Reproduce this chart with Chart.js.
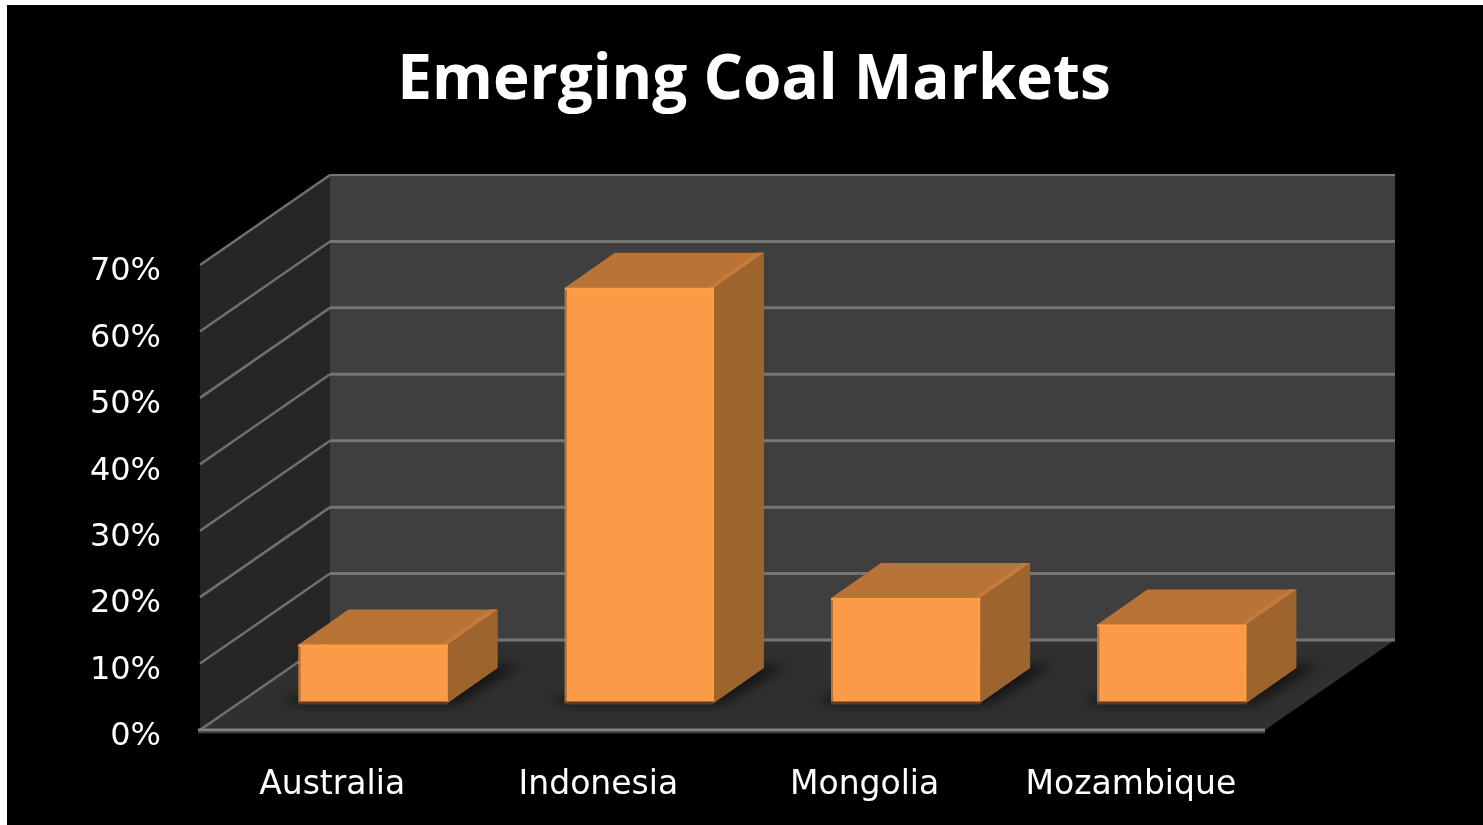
<!DOCTYPE html>
<html>
<head>
<meta charset="utf-8">
<title>Emerging Coal Markets</title>
<script src="https://cdn.jsdelivr.net/npm/chart.js@4"></script>
<style>
    html, body { margin: 0; padding: 0; background: #fff; overflow: hidden; }
    #panel { position: absolute; left: 7px; top: 5px; width: 1476px; height: 820px; background: #000; }
    #coalChart { position: absolute; left: 0; top: 0; }
</style>
</head>
<body>
<div id="panel"></div>
<canvas id="coalChart" width="1483" height="825"></canvas>
<script>
const chartTitle = 'Emerging Coal Markets';
const countries = ['Australia', 'Indonesia', 'Mongolia', 'Mozambique'];
const shares = [8.8, 62.5, 15.8, 11.8];

// Fake 3D box: how far the back wall sits from the front plane, and the bars inside it
const wallDepth = { x: 130, y: -90 };
const barInset = { x: 40, y: -27 };
const barDepth = { x: 50, y: -35 };

function poly(ctx, points, fill) {
    ctx.beginPath();
    points.forEach((p, i) => i ? ctx.lineTo(p[0], p[1]) : ctx.moveTo(p[0], p[1]));
    ctx.closePath();
    ctx.fillStyle = fill;
    ctx.fill();
}

function line(ctx, x0, y0, x1, y1, color, width) {
    ctx.beginPath();
    ctx.moveTo(x0, y0);
    ctx.lineTo(x1, y1);
    ctx.strokeStyle = color;
    ctx.lineWidth = width;
    ctx.stroke();
}

const box3d = {
    id: 'box3d',

    beforeDatasetsDraw(chart) {
        const ctx = chart.ctx;
        const { left, right, top, bottom } = chart.chartArea;
        const dx = wallDepth.x, dy = wallDepth.y;
        const floor = [[left, bottom], [right, bottom], [right + dx, bottom + dy], [left + dx, bottom + dy]];

        // Walls and floor
        poly(ctx, [[left + dx, top + dy], [right + dx, top + dy], [right + dx, bottom + dy], [left + dx, bottom + dy]], '#3f3f3f');
        poly(ctx, [[left, top], [left + dx, top + dy], [left + dx, bottom + dy], [left, bottom]], '#262626');
        poly(ctx, floor, '#303030');

        // Gridlines run along the side wall and across the back wall
        chart.scales.y.ticks.forEach(tick => {
            const y = chart.scales.y.getPixelForValue(tick.value);
            line(ctx, left, y, left + dx, y + dy, '#707070', 2.5);
            line(ctx, left + dx, y + dy, right + dx, y + dy, '#767676', tick.value === 70 ? 2 : 3);
        });
        line(ctx, left - 2, bottom + 2.5, right, bottom + 2.5, '#3a3a3a', 2);
        line(ctx, left - 2, bottom, right, bottom, '#828282', 3);

        const bars = chart.getDatasetMeta(0).data;

        // Soft shadows on the floor
        ctx.save();
        ctx.beginPath();
        floor.forEach((p, i) => i ? ctx.lineTo(p[0], p[1]) : ctx.moveTo(p[0], p[1]));
        ctx.closePath();
        ctx.clip();
        ctx.filter = 'blur(6px)';
        bars.forEach(bar => {
            const x0 = bar.x - bar.width / 2 + barInset.x;
            const x1 = bar.x + bar.width / 2 + barInset.x;
            const base = bar.base + barInset.y;
            poly(ctx, [[x0 - 16, base - 4], [x0, base + 2], [x1 + 8, base + 2],
                [x1 + barDepth.x + 24, base + barDepth.y - 3], [x1, base + barDepth.y - 3]], 'rgba(10,10,10,0.7)');
        });
        ctx.restore();

        // Top and side faces of each bar
        bars.forEach(bar => {
            const x0 = bar.x - bar.width / 2 + barInset.x;
            const x1 = bar.x + bar.width / 2 + barInset.x;
            const y0 = bar.y + barInset.y;
            const base = bar.base + barInset.y;
            const bx = barDepth.x, by = barDepth.y;
            poly(ctx, [[x1, y0], [x1 + bx, y0 + by], [x1 + bx, base + by], [x1, base]], '#9e642d');
            poly(ctx, [[x0, y0], [x0 + bx, y0 + by], [x1 + bx, y0 + by], [x1, y0]], '#b97334');
            poly(ctx, [[x1 - 6, y0], [x1 + bx - 8, y0 + by], [x1 + bx, y0 + by], [x1, y0]], '#c47b39');
        });

        // Front faces are the real bars, pushed back into the box
        ctx.save();
        ctx.translate(barInset.x, barInset.y);
    },

    afterDatasetsDraw(chart) {
        const ctx = chart.ctx;
        ctx.restore();
        chart.getDatasetMeta(0).data.forEach(bar => {
            const x0 = bar.x - bar.width / 2 + barInset.x;
            const x1 = bar.x + bar.width / 2 + barInset.x;
            const y0 = bar.y + barInset.y;
            const base = bar.base + barInset.y;
            line(ctx, x0 + 1, y0, x0 + 1, base, '#b5713a', 2);
            line(ctx, x0, y0 + 1, x1, y0 + 1, '#ff9e45', 2);
            line(ctx, x1 - 1, y0, x1 - 1, base, '#ff9e45', 2);
            line(ctx, x0, base, x1, base, '#5c3d24', 3);
        });
    }
};

new Chart(document.getElementById('coalChart').getContext('2d'), {
    type: 'bar',
    data: {
        labels: countries,
        datasets: [{
            data: shares,
            backgroundColor: '#fb9a47',
            barPercentage: 0.56,
            categoryPercentage: 1,
            clip: false
        }]
    },
    options: {
        responsive: false,
        animation: false,
        layout: { padding: { left: 25 } },
        plugins: {
            legend: { display: false },
            tooltip: { enabled: false },
            title: {
                display: true,
                text: chartTitle,
                color: '#fff',
                font: { family: 'Open Sans', size: 62, weight: 'bold', lineHeight: 1.2 },
                padding: { top: 44, bottom: 146.6 }
            }
        },
        scales: {
            x: {
                grid: { display: false },
                border: { display: false },
                ticks: {
                    color: '#fff',
                    font: { family: 'DejaVu Sans', size: 33 },
                    padding: 28,
                    maxRotation: 0,
                    autoSkip: false,
                    labelOffset: -1
                },
                afterFit(scale) { scale.height = 95; }
            },
            y: {
                min: 0,
                max: 70,
                grid: { display: false },
                border: { display: false },
                ticks: {
                    stepSize: 10,
                    color: '#fff',
                    font: { family: 'DejaVu Sans', size: 32 },
                    padding: 31,
                    labelOffset: 7,
                    callback: value => value + '%'
                },
                afterFit(scale) { scale.width = 175; }
            },
            // Empty axis that only reserves the space right of the front plane
            spacer: {
                axis: 'y',
                position: 'right',
                grid: { display: false },
                border: { display: false },
                ticks: { display: false },
                afterFit(scale) { scale.width = 218; }
            }
        }
    },
    plugins: [box3d]
});
</script>
</body>
</html>
